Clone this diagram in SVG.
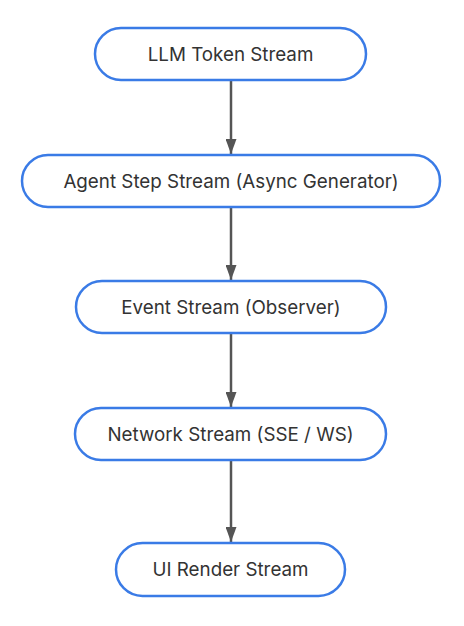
<svg xmlns="http://www.w3.org/2000/svg" width="464" height="626" viewBox="0 0 464 626">
<style>
.node rect{fill:#fff;stroke:#3a7be6;stroke-width:2.5}
.node text{font-family:Inter,"Liberation Sans",sans-serif;font-size:18.8px;fill:#333;text-anchor:middle;dominant-baseline:central}
.edge{stroke:#555;stroke-width:2.5;fill:none;marker-end:url(#arr)}
</style>
<defs>
<marker id="arr" markerWidth="15" markerHeight="11" refX="15" refY="5.5" orient="auto" markerUnits="userSpaceOnUse" viewBox="0 0 15 11">
<path d="M0,0 L15,5.5 L0,11 Z" fill="#555"/>
</marker>
</defs>
<rect width="464" height="626" fill="#fff"/>
<g id="edges">
<line class="edge" x1="231" y1="81" x2="231" y2="154"/>
<line class="edge" x1="231" y1="208" x2="231" y2="280"/>
<line class="edge" x1="231" y1="334" x2="231" y2="407"/>
<line class="edge" x1="231" y1="461" x2="231" y2="542"/>
</g>
<g id="n1" class="node"><rect x="95" y="28" width="271" height="52" rx="26"/><text x="230.5" y="54">LLM Token Stream</text></g>
<g id="n2" class="node"><rect x="22" y="155" width="418" height="52" rx="26"/><text x="231" y="181">Agent Step Stream (Async Generator)</text></g>
<g id="n3" class="node"><rect x="76" y="281" width="310" height="52" rx="26"/><text x="231" y="307">Event Stream (Observer)</text></g>
<g id="n4" class="node"><rect x="75" y="408" width="311" height="52" rx="26"/><text x="230.5" y="434">Network Stream (SSE / WS)</text></g>
<g id="n5" class="node"><rect x="116" y="543" width="229" height="53" rx="26.5"/><text x="230.5" y="569.5">UI Render Stream</text></g>
</svg>
